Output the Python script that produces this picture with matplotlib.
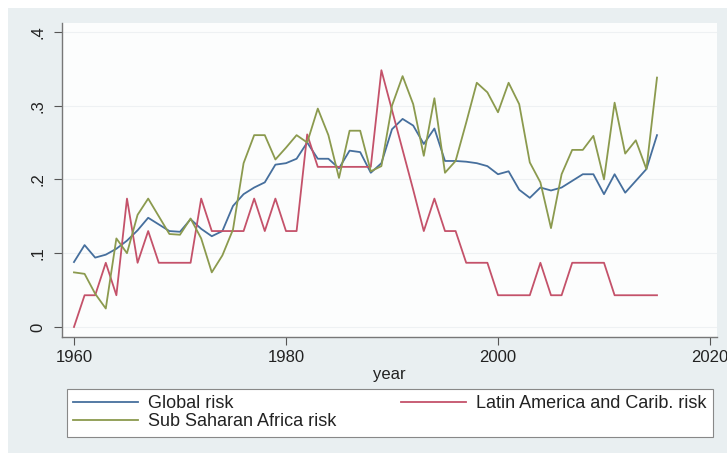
import numpy as np
import matplotlib
matplotlib.use("Agg")
import matplotlib.pyplot as plt
from matplotlib.patches import Rectangle

# ================= DATA =================
years = list(range(1960, 2016))

global_risk = [
    0.088, 0.111, 0.094, 0.098, 0.106, 0.117, 0.131, 0.148, 0.139, 0.130,
    0.129, 0.146, 0.133, 0.123, 0.130, 0.164, 0.180, 0.189, 0.196, 0.220,
    0.222, 0.228, 0.250, 0.228, 0.228, 0.215, 0.239, 0.237, 0.209, 0.222,
    0.268, 0.282, 0.273, 0.248, 0.269, 0.225, 0.225, 0.224, 0.222, 0.218,
    0.207, 0.211, 0.186, 0.175, 0.189, 0.185, 0.189, 0.198, 0.207, 0.207,
    0.180, 0.207, 0.182, 0.198, 0.214, 0.260,
]

latam_risk = [
    0.000, 0.043, 0.043, 0.087, 0.043, 0.174, 0.087, 0.130, 0.087, 0.087,
    0.087, 0.087, 0.174, 0.130, 0.130, 0.130, 0.130, 0.174, 0.130, 0.174,
    0.130, 0.130, 0.261, 0.217, 0.217, 0.217, 0.217, 0.217, 0.217, 0.348,
    0.294, 0.240, 0.186, 0.130, 0.174, 0.130, 0.130, 0.087, 0.087, 0.087,
    0.043, 0.043, 0.043, 0.043, 0.087, 0.043, 0.043, 0.087, 0.087, 0.087,
    0.087, 0.043, 0.043, 0.043, 0.043, 0.043,
]

ssa_risk = [
    0.074, 0.072, 0.045, 0.025, 0.120, 0.100, 0.152, 0.174, 0.150, 0.126,
    0.125, 0.147, 0.120, 0.074, 0.097, 0.132, 0.222, 0.260, 0.260, 0.227,
    0.243, 0.260, 0.250, 0.296, 0.260, 0.202, 0.266, 0.266, 0.211, 0.218,
    0.300, 0.340, 0.302, 0.232, 0.310, 0.209, 0.225, 0.277, 0.331, 0.318,
    0.291, 0.331, 0.302, 0.223, 0.196, 0.134, 0.207, 0.240, 0.240, 0.259,
    0.200, 0.304, 0.235, 0.253, 0.214, 0.338,
]

x_ticks = [1960, 1980, 2000, 2020]
y_ticks = [0, 0.1, 0.2, 0.3, 0.4]
y_tick_labels = ["0", ".1", ".2", ".3", ".4"]

# ================= STYLE =================
BLUE = "#466f9d"
RED = "#c4526a"
GREEN = "#8b9a4e"
FONT = "Liberation Sans"
FS = 12
LEG_FS = 13

plt.rcParams['font.family'] = [FONT, 'DejaVu Sans']

fig = plt.figure(figsize=(7.27, 4.53), dpi=100, facecolor="white")

# graph region background (white strip on top / left as in the scan)
fig.patches.append(Rectangle((8 / 727, 0), 1, 445 / 453, transform=fig.transFigure,
                             facecolor="#e9eff1", edgecolor="none", zorder=-10))

ax = fig.add_axes([62 / 727, 116 / 453, 655 / 727, 314 / 453])
ax.set_zorder(1)
ax.set_facecolor("#fcfdfd")

ax.plot(years, global_risk, color=BLUE, linewidth=1.3, label="Global risk", zorder=3)
ax.plot(years, latam_risk, color=RED, linewidth=1.3,
        label="Latin America and Carib. risk", zorder=4)
ax.plot(years, ssa_risk, color=GREEN, linewidth=1.3, label="Sub Saharan Africa risk", zorder=5)

ax.set_xlim(1958.87, 2020.66)
ax.set_ylim(-0.0136, 0.412)

ax.set_xticks(x_ticks)
ax.set_yticks(y_ticks)
ax.set_yticklabels(y_tick_labels, rotation=90, va="center")
ax.tick_params(axis="both", colors="#555555", labelcolor="#222222", labelsize=FS,
               length=6, width=0.8, direction="out")
ax.tick_params(axis="y", pad=6)
ax.tick_params(axis="x", pad=3)

ax.grid(axis="y", color="#eef1f3", linewidth=0.8)
ax.set_axisbelow(True)

for side in ["top", "right"]:
    ax.spines[side].set_visible(False)
for side in ["left", "bottom"]:
    ax.spines[side].set_color("#777777")
    ax.spines[side].set_linewidth(1.0)

ax.set_xlabel("year", fontsize=FS, color="#222222", labelpad=2)

handles, labels = ax.get_legend_handles_labels()
order = [0, 2, 1]
leg = fig.legend([handles[i] for i in order], [labels[i] for i in order],
                 loc="upper left", bbox_to_anchor=(67 / 727, 15 / 453, 646 / 727, 49 / 453),
                 bbox_transform=fig.transFigure, mode="expand", ncol=2,
                 fontsize=LEG_FS, frameon=True, fancybox=False, framealpha=1,
                 borderaxespad=0, handlelength=3.6, handletextpad=0.55,
                 labelspacing=0.05, borderpad=0.35)
leg.get_frame().set_edgecolor("#888888")
leg.get_frame().set_linewidth(0.8)
leg.get_frame().set_facecolor("white")
for t in leg.get_texts():
    t.set_color("#222222")

fig.savefig("out.png", dpi=100, facecolor=fig.get_facecolor())
